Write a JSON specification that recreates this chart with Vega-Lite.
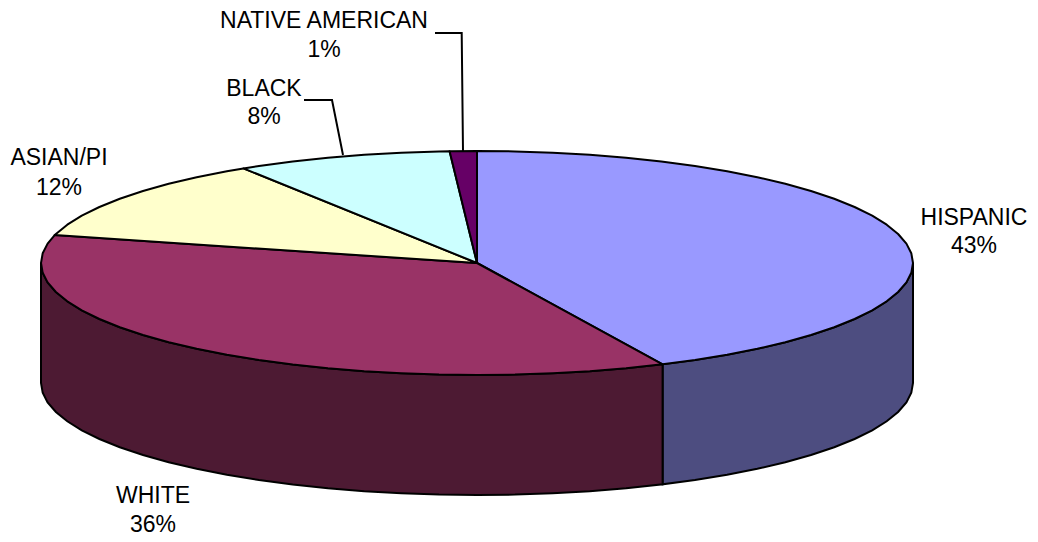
{
"$schema":"https://vega.github.io/schema/vega-lite/v6.json",
"width":1038,"height":542,"padding":0,
"autosize":{"type":"fit","contains":"padding"},
"background":"white",
"config":{"view":{"stroke":null},"text":{"font":"Liberation Sans","fontSize":23,"color":"#000000"}},
"datasets":{
"disc":[
{"slice":"HISPANIC","i":0,"x":0,"y":0},{"slice":"HISPANIC","i":1,"x":0,"y":112},{"slice":"HISPANIC","i":2,"x":38,"y":111.6},{"slice":"HISPANIC","i":3,"x":75.7,"y":110.3},{"slice":"HISPANIC","i":4,"x":112.8,"y":108.2},{"slice":"HISPANIC","i":5,"x":149.1,"y":105.2},{"slice":"HISPANIC","i":6,"x":184.3,"y":101.5},{"slice":"HISPANIC","i":7,"x":218,"y":97},{"slice":"HISPANIC","i":8,"x":250.1,"y":91.7},{"slice":"HISPANIC","i":9,"x":280.3,"y":85.8},{"slice":"HISPANIC","i":10,"x":308.3,"y":79.2},{"slice":"HISPANIC","i":11,"x":334,"y":72},{"slice":"HISPANIC","i":12,"x":357.2,"y":64.2},{"slice":"HISPANIC","i":13,"x":377.6,"y":56},{"slice":"HISPANIC","i":14,"x":395.2,"y":47.3},{"slice":"HISPANIC","i":15,"x":409.7,"y":38.3},{"slice":"HISPANIC","i":16,"x":421.1,"y":29},{"slice":"HISPANIC","i":17,"x":429.4,"y":19.4},{"slice":"HISPANIC","i":18,"x":434.3,"y":9.8},{"slice":"HISPANIC","i":19,"x":436,"y":0},{"slice":"HISPANIC","i":20,"x":434.3,"y":-9.8},{"slice":"HISPANIC","i":21,"x":429.4,"y":-19.4},{"slice":"HISPANIC","i":22,"x":421.1,"y":-29},{"slice":"HISPANIC","i":23,"x":409.7,"y":-38.3},{"slice":"HISPANIC","i":24,"x":395.2,"y":-47.3},{"slice":"HISPANIC","i":25,"x":377.6,"y":-56},{"slice":"HISPANIC","i":26,"x":357.2,"y":-64.2},{"slice":"HISPANIC","i":27,"x":334,"y":-72},{"slice":"HISPANIC","i":28,"x":308.3,"y":-79.2},{"slice":"HISPANIC","i":29,"x":280.3,"y":-85.8},{"slice":"HISPANIC","i":30,"x":250.1,"y":-91.7},{"slice":"HISPANIC","i":31,"x":218,"y":-97},{"slice":"HISPANIC","i":32,"x":185.6,"y":-101.3},{"slice":"HISPANIC","i":33,"x":0,"y":0},
{"slice":"WHITE","i":0,"x":0,"y":0},{"slice":"WHITE","i":1,"x":185.6,"y":-101.3},{"slice":"WHITE","i":2,"x":149.1,"y":-105.2},{"slice":"WHITE","i":3,"x":112.8,"y":-108.2},{"slice":"WHITE","i":4,"x":75.7,"y":-110.3},{"slice":"WHITE","i":5,"x":38,"y":-111.6},{"slice":"WHITE","i":6,"x":0,"y":-112},{"slice":"WHITE","i":7,"x":-38,"y":-111.6},{"slice":"WHITE","i":8,"x":-75.7,"y":-110.3},{"slice":"WHITE","i":9,"x":-112.8,"y":-108.2},{"slice":"WHITE","i":10,"x":-149.1,"y":-105.2},{"slice":"WHITE","i":11,"x":-184.3,"y":-101.5},{"slice":"WHITE","i":12,"x":-218,"y":-97},{"slice":"WHITE","i":13,"x":-250.1,"y":-91.7},{"slice":"WHITE","i":14,"x":-280.3,"y":-85.8},{"slice":"WHITE","i":15,"x":-308.3,"y":-79.2},{"slice":"WHITE","i":16,"x":-334,"y":-72},{"slice":"WHITE","i":17,"x":-357.2,"y":-64.2},{"slice":"WHITE","i":18,"x":-377.6,"y":-56},{"slice":"WHITE","i":19,"x":-395.2,"y":-47.3},{"slice":"WHITE","i":20,"x":-409.7,"y":-38.3},{"slice":"WHITE","i":21,"x":-421.1,"y":-29},{"slice":"WHITE","i":22,"x":-429.4,"y":-19.4},{"slice":"WHITE","i":23,"x":-434.3,"y":-9.8},{"slice":"WHITE","i":24,"x":-436,"y":0},{"slice":"WHITE","i":25,"x":-434.3,"y":9.8},{"slice":"WHITE","i":26,"x":-429.4,"y":19.4},{"slice":"WHITE","i":27,"x":-422.3,"y":27.9},{"slice":"WHITE","i":28,"x":0,"y":0},
{"slice":"ASIAN/PI","i":0,"x":0,"y":0},{"slice":"ASIAN/PI","i":1,"x":-422.3,"y":27.9},{"slice":"ASIAN/PI","i":2,"x":-409.7,"y":38.3},{"slice":"ASIAN/PI","i":3,"x":-395.2,"y":47.3},{"slice":"ASIAN/PI","i":4,"x":-377.6,"y":56},{"slice":"ASIAN/PI","i":5,"x":-357.2,"y":64.2},{"slice":"ASIAN/PI","i":6,"x":-334,"y":72},{"slice":"ASIAN/PI","i":7,"x":-308.3,"y":79.2},{"slice":"ASIAN/PI","i":8,"x":-280.3,"y":85.8},{"slice":"ASIAN/PI","i":9,"x":-250.1,"y":91.7},{"slice":"ASIAN/PI","i":10,"x":-233.6,"y":94.6},{"slice":"ASIAN/PI","i":11,"x":0,"y":0},
{"slice":"BLACK","i":0,"x":0,"y":0},{"slice":"BLACK","i":1,"x":-233.6,"y":94.6},{"slice":"BLACK","i":2,"x":-218,"y":97},{"slice":"BLACK","i":3,"x":-184.3,"y":101.5},{"slice":"BLACK","i":4,"x":-149.1,"y":105.2},{"slice":"BLACK","i":5,"x":-112.8,"y":108.2},{"slice":"BLACK","i":6,"x":-75.7,"y":110.3},{"slice":"BLACK","i":7,"x":-38,"y":111.6},{"slice":"BLACK","i":8,"x":-27.4,"y":111.8},{"slice":"BLACK","i":9,"x":0,"y":0},
{"slice":"NATIVE AMERICAN","i":0,"x":0,"y":0},{"slice":"NATIVE AMERICAN","i":1,"x":-27.4,"y":111.8},{"slice":"NATIVE AMERICAN","i":2,"x":0,"y":112},{"slice":"NATIVE AMERICAN","i":3,"x":0,"y":0}
],
"rim":[
{"slice":"HISPANIC","x":436,"top":0,"bottom":-120},{"slice":"HISPANIC","x":434.3,"top":-9.8,"bottom":-129.8},{"slice":"HISPANIC","x":429.4,"top":-19.4,"bottom":-139.4},{"slice":"HISPANIC","x":421.1,"top":-29,"bottom":-149},{"slice":"HISPANIC","x":409.7,"top":-38.3,"bottom":-158.3},{"slice":"HISPANIC","x":395.2,"top":-47.3,"bottom":-167.3},{"slice":"HISPANIC","x":377.6,"top":-56,"bottom":-176},{"slice":"HISPANIC","x":357.2,"top":-64.2,"bottom":-184.2},{"slice":"HISPANIC","x":334,"top":-72,"bottom":-192},{"slice":"HISPANIC","x":308.3,"top":-79.2,"bottom":-199.2},{"slice":"HISPANIC","x":280.3,"top":-85.8,"bottom":-205.8},{"slice":"HISPANIC","x":250.1,"top":-91.7,"bottom":-211.7},{"slice":"HISPANIC","x":218,"top":-97,"bottom":-217},{"slice":"HISPANIC","x":185.6,"top":-101.3,"bottom":-221.3},
{"slice":"WHITE","x":185.6,"top":-101.3,"bottom":-221.3},{"slice":"WHITE","x":149.1,"top":-105.2,"bottom":-225.2},{"slice":"WHITE","x":112.8,"top":-108.2,"bottom":-228.2},{"slice":"WHITE","x":75.7,"top":-110.3,"bottom":-230.3},{"slice":"WHITE","x":38,"top":-111.6,"bottom":-231.6},{"slice":"WHITE","x":0,"top":-112,"bottom":-232},{"slice":"WHITE","x":-38,"top":-111.6,"bottom":-231.6},{"slice":"WHITE","x":-75.7,"top":-110.3,"bottom":-230.3},{"slice":"WHITE","x":-112.8,"top":-108.2,"bottom":-228.2},{"slice":"WHITE","x":-149.1,"top":-105.2,"bottom":-225.2},{"slice":"WHITE","x":-184.3,"top":-101.5,"bottom":-221.5},{"slice":"WHITE","x":-218,"top":-97,"bottom":-217},{"slice":"WHITE","x":-250.1,"top":-91.7,"bottom":-211.7},{"slice":"WHITE","x":-280.3,"top":-85.8,"bottom":-205.8},{"slice":"WHITE","x":-308.3,"top":-79.2,"bottom":-199.2},{"slice":"WHITE","x":-334,"top":-72,"bottom":-192},{"slice":"WHITE","x":-357.2,"top":-64.2,"bottom":-184.2},{"slice":"WHITE","x":-377.6,"top":-56,"bottom":-176},{"slice":"WHITE","x":-395.2,"top":-47.3,"bottom":-167.3},{"slice":"WHITE","x":-409.7,"top":-38.3,"bottom":-158.3},{"slice":"WHITE","x":-421.1,"top":-29,"bottom":-149},{"slice":"WHITE","x":-429.4,"top":-19.4,"bottom":-139.4},{"slice":"WHITE","x":-434.3,"top":-9.8,"bottom":-129.8},{"slice":"WHITE","x":-436,"top":0,"bottom":-120}
],
"leaders":[
{"slice":"NATIVE AMERICAN","i":0,"x":-42,"y":230},{"slice":"NATIVE AMERICAN","i":1,"x":-15.3,"y":230},{"slice":"NATIVE AMERICAN","i":2,"x":-14,"y":112},
{"slice":"BLACK","i":0,"x":-173,"y":163},{"slice":"BLACK","i":1,"x":-145,"y":163},{"slice":"BLACK","i":2,"x":-134,"y":108}
],
"labels":[
{"slice":"HISPANIC","share":"43%","x":497,"nameY":45,"shareY":17},
{"slice":"WHITE","share":"36%","x":-324,"nameY":-233,"shareY":-262},
{"slice":"ASIAN/PI","share":"12%","x":-418,"nameY":105.5,"shareY":75.5},
{"slice":"BLACK","share":"8%","x":-213,"nameY":174,"shareY":146},
{"slice":"NATIVE AMERICAN","share":"1%","x":-153,"nameY":242,"shareY":213}
]
},
"encoding":{
"x":{"field":"x","type":"quantitative","axis":null,"scale":{"domain":[-477,561],"nice":false,"zero":false}}
},
"resolve":{"scale":{"fill":"independent"}},
"layer":[
{"data":{"name":"rim"},
 "mark":{"type":"area","stroke":"#000000","strokeWidth":2,"interpolate":"linear"},
 "encoding":{
  "y":{"field":"top","type":"quantitative","axis":null,"scale":{"domain":[-279,263],"nice":false,"zero":false}},
  "y2":{"field":"bottom"},
  "fill":{"field":"slice","type":"nominal","legend":null,"scale":{"domain":["HISPANIC","WHITE"],"range":["#4D4D80","#4D1A33"]}}
 }},
{"data":{"name":"disc"},
 "mark":{"type":"line","stroke":"#000000","strokeWidth":2,"strokeJoin":"round","interpolate":"linear"},
 "encoding":{
  "y":{"field":"y","type":"quantitative","axis":null,"scale":{"domain":[-279,263],"nice":false,"zero":false}},
  "order":{"field":"i","type":"quantitative"},
  "detail":{"field":"slice"},
  "fill":{"field":"slice","type":"nominal","legend":null,"scale":{"domain":["HISPANIC","WHITE","ASIAN/PI","BLACK","NATIVE AMERICAN"],"range":["#9999FF","#993366","#FFFFCC","#CCFFFF","#660066"]}}
 }},
{"data":{"name":"leaders"},
 "mark":{"type":"line","stroke":"#000000","strokeWidth":2,"interpolate":"linear"},
 "encoding":{
  "y":{"field":"y","type":"quantitative","axis":null,"scale":{"domain":[-279,263],"nice":false,"zero":false}},
  "order":{"field":"i","type":"quantitative"},
  "detail":{"field":"slice"}
 }},
{"data":{"name":"labels"},
 "mark":{"type":"text","align":"center","baseline":"middle"},
 "encoding":{
  "y":{"field":"nameY","type":"quantitative","axis":null,"scale":{"domain":[-279,263],"nice":false,"zero":false}},
  "text":{"field":"slice"}
 }},
{"data":{"name":"labels"},
 "mark":{"type":"text","align":"center","baseline":"middle"},
 "encoding":{
  "y":{"field":"shareY","type":"quantitative","axis":null,"scale":{"domain":[-279,263],"nice":false,"zero":false}},
  "text":{"field":"share"}
 }}
]
}
